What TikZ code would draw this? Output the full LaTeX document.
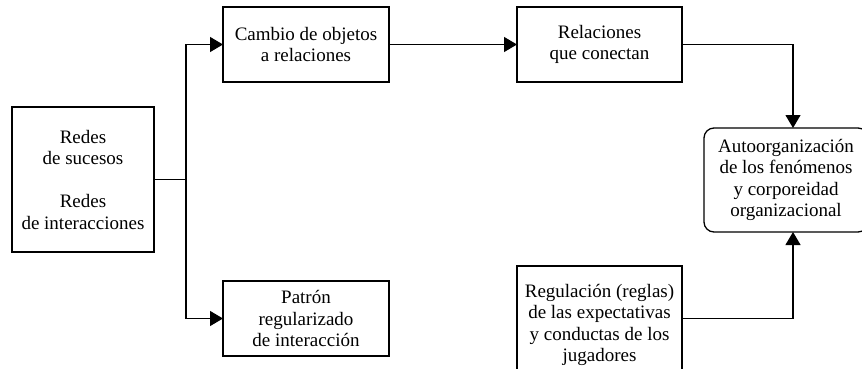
\documentclass[tikz,border=0pt]{standalone}
\usepackage{fontspec}
\setmainfont{Liberation Serif}
\newfontfamily\tms{Liberation Serif}
\usetikzlibrary{arrows.meta}
\begin{document}
\begin{tikzpicture}[x=1pt,y=1pt,
  box/.style={draw, line width=1.3pt, inner sep=0pt, outer sep=0pt, align=center,
    font=\tms\fontsize{19}{21.5}\selectfont},
  arr/.style={line width=1.2pt, -{Triangle[length=13pt,width=15pt]}},
  ln/.style={line width=1.2pt}]
\useasboundingbox (0,0) rectangle (862,368);
\clip (0,0) rectangle (862,368);
\node[box, minimum width=142pt, minimum height=145pt] (redes) at (83,188.5)
  {Redes\\de sucesos\\[21.5pt]Redes\\de interacciones};
\node[box, minimum width=166pt, minimum height=75pt] (cambio) at (306,323.5)
  {Cambio de objetos\\a relaciones};
\node[box, minimum width=165pt, minimum height=75pt] (relac) at (599.5,323.5)
  {Relaciones\\que conectan};
\node[box, minimum width=166pt, minimum height=75pt] (patron) at (306,49.5)
  {Patrón\\regularizado\\de interacción};
\node[box, minimum width=165pt, minimum height=118pt] (regul) at (599.5,43)
  {Regulación (reglas)\\de las expectativas\\y conductas de los\\jugadores};
\node[box, rounded corners=10pt, minimum width=164pt, minimum height=104pt] (auto) at (786,188)
  {Autoorganización\\de los fenómenos\\y corporeidad\\organizacional};
\coordinate (j) at (186,188.5);
\coordinate (ktop) at (793,240);
\coordinate (kbot) at (793,136);
\draw[ln] (redes.east) -- (j);
\draw[arr] (j) |- (cambio.west);
\draw[arr] (j) |- (patron.west);
\draw[arr] (cambio.east) -- (relac.west);
\draw[arr] (relac.east) -| (ktop);
\draw[arr] (regul.east |- patron.east) -| (kbot);
\end{tikzpicture}
\end{document}
